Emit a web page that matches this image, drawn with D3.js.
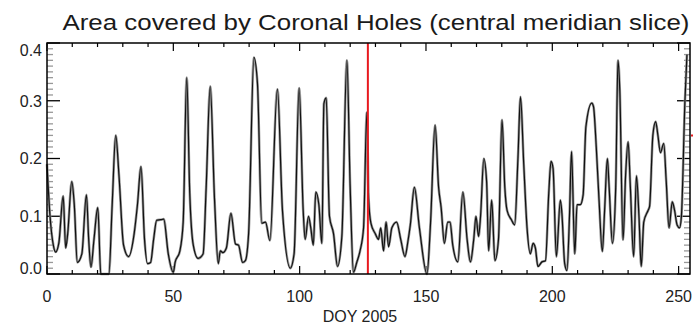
<!DOCTYPE html>
<html><head><meta charset="utf-8">
<script src="https://cdn.jsdelivr.net/npm/d3@7"></script>
<style>html,body{margin:0;padding:0;background:#fff;overflow:hidden}</style>
</head><body>
<svg id="c" width="693" height="326"></svg>
<script>
const title = "Area covered by Coronal Holes (central meridian slice)";
const xLabel = "DOY 2005";
const xTicks = [0, 50, 100, 150, 200, 250];
const yTicks = [0.0, 0.1, 0.2, 0.3, 0.4];
const markerDay = 127;
const days = [0,1.2,2.5,3.4,4.7,6.4,7.4,8.2,9.8,10.8,12,13.8,15.6,16.5,17.4,18.6,20.1,21.3,24.5,25.8,27.2,28.5,30.3,32.3,34.5,35.8,37.2,38.6,39.8,41,42.2,43.4,45,46.2,48,50,50.7,52.6,53.9,55.3,56.5,57.9,59.8,61.8,63,64.6,66.3,67.8,68.6,69.6,71,72.8,74.6,75.8,77.4,78.5,79.8,81.9,83.3,85,86.5,88.2,91.2,93.2,96.3,97.8,99.8,101.4,102.2,103.5,104.4,105.4,106.4,107.6,108.8,109.6,110.5,111.8,113.4,115,116.7,118.7,120,121.3,122.6,123.9,125.3,126.6,127.3,128.2,129.9,131.2,132.1,133.2,134.2,135.2,136.5,138.4,140,141.7,142.8,143.8,145.4,147.4,150.4,151.8,153.6,155,156,157.3,158.6,159.5,160.6,162.6,164.6,166.3,167.6,168.9,169.8,170.8,171.6,172.9,174,174.8,176,177.3,178.7,180.1,181.2,182.1,183.8,185.1,186.4,187.4,188.7,190,191.3,192.4,193.3,194.3,195.9,197.3,198.6,199.5,200.3,201.6,203.2,203.8,204.9,205.8,206.8,207.6,208.9,209.8,211.1,212.2,213.3,215.6,216.3,217.4,218.5,219.8,220.7,221.8,222.5,223.8,225.1,226,226.7,228,229,230,230.9,232.2,233.3,234.3,235.2,236.2,237.9,238.5,239.8,240.9,241.8,242.8,244.1,245.1,246.2,247.5,248.4,249.4,250.4,251.1,252.5,253.3];
const area = [0.19,0.10,0.05,0.038,0.054,0.135,0.045,0.07,0.16,0.12,0.02,0.035,0.137,0.06,0.012,0.06,0.115,0.0,0.0,0.12,0.24,0.17,0.05,0.03,0.07,0.12,0.186,0.06,0.018,0.02,0.06,0.093,0.094,0.095,0.035,0.003,0.02,0.04,0.09,0.34,0.14,0.05,0.027,0.035,0.15,0.325,0.13,0.018,0.04,0.037,0.045,0.105,0.052,0.05,0.02,0.023,0.07,0.375,0.33,0.088,0.09,0.058,0.32,0.11,0.01,0.035,0.322,0.11,0.06,0.10,0.08,0.05,0.142,0.12,0.053,0.295,0.305,0.10,0.07,0.013,0.065,0.37,0.15,0.003,0.02,0.04,0.08,0.28,0.13,0.088,0.07,0.06,0.08,0.04,0.09,0.047,0.08,0.09,0.06,0.03,0.055,0.085,0.15,0.08,0.0,0.088,0.258,0.15,0.115,0.053,0.09,0.09,0.05,0.021,0.142,0.059,0.021,0.06,0.10,0.065,0.10,0.20,0.16,0.04,0.128,0.023,0.06,0.267,0.15,0.11,0.094,0.085,0.2,0.307,0.19,0.08,0.035,0.053,0.045,0.013,0.021,0.023,0.14,0.195,0.183,0.03,0.128,0.105,0.018,0.006,0.1,0.212,0.035,0.12,0.12,0.137,0.255,0.296,0.29,0.22,0.128,0.039,0.11,0.2,0.15,0.053,0.15,0.37,0.32,0.059,0.17,0.229,0.15,0.03,0.17,0.1,0.013,0.09,0.11,0.117,0.24,0.264,0.24,0.21,0.226,0.16,0.08,0.125,0.11,0.085,0.08,0.1,0.3,0.38];

const svg = d3.select("#c");
const L = 47, R = 690, T = 43, B = 274;
const x = d3.scaleLinear().domain([0, 254.5]).range([L, R]);
const y = d3.scaleLinear().domain([0, 0.4]).range([B, T]);
const font = "'Liberation Sans', Arial, sans-serif";

svg.append("text").attr("x", 376).attr("y", 30).attr("text-anchor", "middle")
  .attr("font-family", font).attr("font-size", 22).attr("fill", "#1a1a1a")
  .attr("textLength", 627).attr("lengthAdjust", "spacingAndGlyphs").text(title);

const g = svg.append("g").attr("stroke", "#000").attr("fill", "none");
d3.range(0, 255, 10).forEach(d => {
  const major = d % 50 === 0, len = major ? 8 : 4;
  g.append("line").attr("x1", x(d)).attr("x2", x(d)).attr("y1", B).attr("y2", B - len).attr("stroke-width", 1.2);
  g.append("line").attr("x1", x(d)).attr("x2", x(d)).attr("y1", T).attr("y2", T + len).attr("stroke-width", 1.2);
});
d3.range(0, 41).forEach(i => {
  const d = i / 100, major = i % 10 === 0, len = major ? 13 : 6;
  const col = major ? "#000" : "#999";
  g.append("line").attr("x1", L).attr("x2", L + len).attr("y1", y(d)).attr("y2", y(d)).attr("stroke", col).attr("stroke-width", 1.3);
  g.append("line").attr("x1", R).attr("x2", R - len).attr("y1", y(d)).attr("y2", y(d)).attr("stroke", col).attr("stroke-width", 1.3);
});

const line = d3.line().x((d, i) => x(days[i])).y(d => y(d)).curve(d3.curveMonotoneX);
svg.append("path").datum(area).attr("d", line).attr("fill", "none")
  .attr("stroke", "#9a9a9a").attr("stroke-width", 2.6).attr("stroke-linejoin", "round");
svg.append("path").datum(area).attr("d", line).attr("fill", "none")
  .attr("stroke", "#111").attr("stroke-width", 1.2).attr("stroke-linejoin", "round");

svg.append("line").attr("x1", x(markerDay)).attr("x2", x(markerDay)).attr("y1", T).attr("y2", B)
  .attr("stroke", "#e8191e").attr("stroke-width", 2);
svg.append("line").attr("x1", 691).attr("x2", 693).attr("y1", y(0.24)).attr("y2", y(0.24))
  .attr("stroke", "#e8191e").attr("stroke-width", 2);

svg.append("rect").attr("x", L).attr("y", T).attr("width", R - L).attr("height", B - T)
  .attr("fill", "none").attr("stroke", "#000").attr("stroke-width", 1.5);

yTicks.forEach(d => {
  const yy = Math.min(Math.max(y(d), 50), 268);
  svg.append("text").attr("x", 42).attr("y", yy).attr("dy", "0.36em").attr("text-anchor", "end")
    .attr("font-family", font).attr("font-size", 16).attr("fill", "#222").text(d.toFixed(1));
});
xTicks.forEach(d => {
  svg.append("text").attr("x", x(d)).attr("y", 302).attr("text-anchor", "middle")
    .attr("font-family", font).attr("font-size", 16).attr("fill", "#222").text(d);
});
svg.append("text").attr("x", 360).attr("y", 322).attr("text-anchor", "middle")
  .attr("font-family", font).attr("font-size", 16).attr("fill", "#222").text(xLabel);
</script>
</body></html>
